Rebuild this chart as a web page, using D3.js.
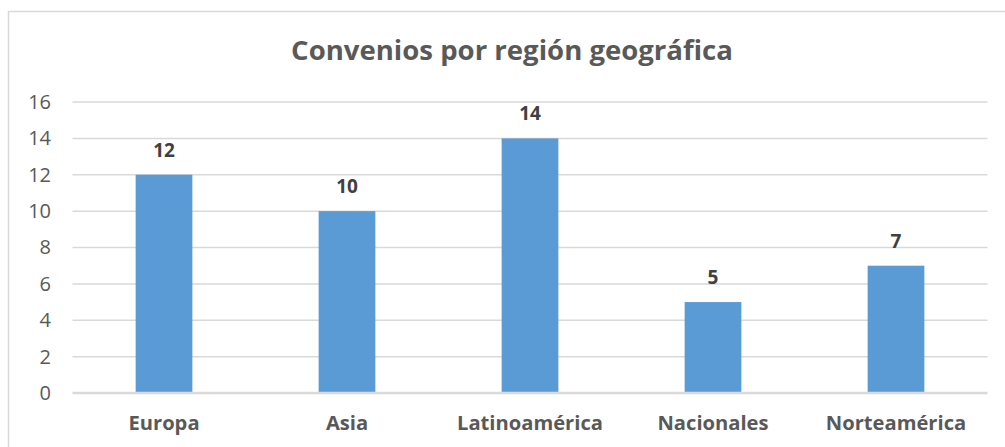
<!DOCTYPE html>
<html><head><meta charset="utf-8">
<script src="https://cdn.jsdelivr.net/npm/d3@7"></script>
<style>body{margin:0;background:#fff}svg{display:block}</style>
</head><body>
<script>
const categories = ["Europa","Asia","Latinoamérica","Nacionales","Norteamérica"];
const values = [12,10,14,5,7];
const yTicks = [0,2,4,6,8,10,12,14,16];
const title = "Convenios por región geográfica";

const W = 1005, H = 447;
const svg = d3.select("body").append("svg").attr("width",W).attr("height",H);
const font = "'Open Sans', 'Noto Sans', sans-serif";

// frame
svg.append("path").attr("d",`M8.5,${H+2}V11.5H${W+2}`).attr("fill","none").attr("stroke","#d9d9d9").attr("stroke-width",1.5);

const x = d3.scaleBand().domain(categories).range([72.5,987.5]).padding(0);
const y = d3.scaleLinear().domain([0,16]).range([393,102]);
const barW = x.bandwidth()*0.31;

// gridlines
svg.append("g").selectAll("line").data(yTicks.filter(d=>d>0)).join("line")
  .attr("x1",72.5).attr("x2",987.5).attr("y1",d=>y(d)).attr("y2",d=>y(d))
  .attr("stroke","#d9d9d9").attr("stroke-width",1.5);

// y axis labels
const yAxis = d3.axisLeft(y).tickValues(yTicks).tickSize(0).tickPadding(0);
const gy = svg.append("g").attr("transform","translate(51,0)").call(yAxis);
gy.select(".domain").remove();
gy.selectAll("text").attr("font-family",font).attr("font-size",20).attr("fill","#595959");

// bars
svg.append("g").selectAll("rect").data(values).join("rect")
  .attr("x",(d,i)=>x(categories[i])+x.bandwidth()/2-barW/2)
  .attr("width",barW)
  .attr("y",d=>y(d)).attr("height",d=>y(0)-y(d))
  .attr("fill","#5b9bd5");

// zero line
svg.append("line").attr("x1",72.5).attr("x2",987.5).attr("y1",y(0)).attr("y2",y(0))
  .attr("stroke","#d9d9d9").attr("stroke-width",2.5);

// data labels
svg.append("g").selectAll("text").data(values).join("text")
  .attr("x",(d,i)=>x(categories[i])+x.bandwidth()/2)
  .attr("y",d=>y(d)-18)
  .attr("text-anchor","middle").attr("font-family",font).attr("font-weight","bold")
  .attr("font-size",19).attr("fill","#404040").text(d=>d);

// category labels
const xAxis = d3.axisBottom(x).tickSize(0).tickPadding(0);
const gx = svg.append("g").call(xAxis);
gx.select(".domain").remove();
const cl = gx.selectAll("text").attr("dy",null).attr("y",430).attr("font-family",font).attr("font-weight","bold")
  .attr("font-size",18).attr("fill","#595959");
const lw = cl.filter(d=>d==="Latinoamérica").node().getComputedTextLength();
cl.attr("font-size",18*146/lw);

// title
const t = svg.append("text").attr("x",512).attr("y",60).attr("text-anchor","middle")
  .attr("font-family",font).attr("font-weight","bold").attr("font-size",26).attr("fill","#595959").text(title);
const tw = t.node().getComputedTextLength();
t.attr("font-size",26*442/tw);
</script>
</body></html>
